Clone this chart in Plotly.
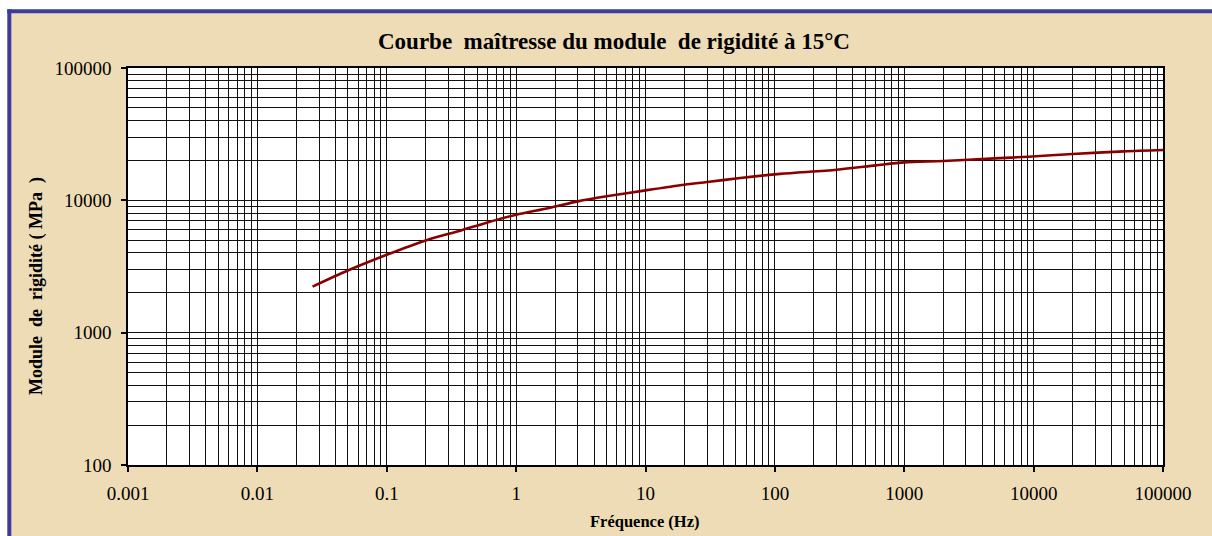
import plotly.graph_objects as go

# Master curve of the stiffness modulus at 15 °C
frequence_hz = [0.0267, 0.05, 0.1, 0.2, 0.37, 0.6, 1, 1.8, 3, 5, 10, 20, 30,
                54, 110, 300, 600, 1000, 2000, 5000, 9100, 20000, 50000, 100000]
module_mpa = [2230, 2950, 3880, 4980, 5900, 6810, 7780, 8750, 9820, 10720,
              11890, 13120, 13740, 14760, 15850, 17020, 18360, 19370, 19820,
              20750, 21370, 22400, 23440, 23980]

x_ticks = [0.001, 0.01, 0.1, 1, 10, 100, 1000, 10000, 100000]
x_labels = ["0.001", "0.01", "0.1", "1", "10", "100", "1000", "10000", "100000"]
y_ticks = [100, 1000, 10000, 100000]
y_labels = ["100", "1000", "10000", "100000"]

titre = "Courbe\u00a0 maîtresse du module\u00a0 de rigidité à 15°C"
titre_x = "Fréquence (Hz)"
titre_y = "Module\u00a0 de\u00a0 rigidité ( MPa\u00a0 )"

W, H = 1212, 536
L, R, T, B = 128, 49, 68, 71
pw, ph = W - L - R, H - T - B


def px(x):
    return (x - L) / pw


def py(y):
    return (H - B - y) / ph


serif = "Liberation Serif"
grid = "#111111"
frame_blue = "#3b3ba0"

fig = go.Figure()
fig.add_trace(go.Scatter(
    x=frequence_hz, y=module_mpa, mode="lines",
    line=dict(color="#8a0000", width=2.6, shape="spline", smoothing=0.8),
    showlegend=False, hoverinfo="x+y",
))

axis_common = dict(
    type="log", showline=True, linecolor="#000000", linewidth=1.5, mirror=True,
    showgrid=True, gridcolor=grid, gridwidth=1.4, zeroline=False,
    ticks="outside", ticklen=5, tickwidth=1.5, tickcolor="#000000",
    tickmode="array",
    tickfont=dict(family=serif, size=19, color="#000000"),
    minor=dict(tickmode="linear", dtick="D1", showgrid=True, gridcolor=grid,
               gridwidth=1.4, ticks=""),
)

fig.update_xaxes(range=[-3, 5], tickvals=x_ticks, ticktext=x_labels,
                 ticklabelstandoff=5, **axis_common)
fig.update_yaxes(range=[2, 5], tickvals=y_ticks, ticktext=y_labels,
                 ticklabelstandoff=6, **axis_common)

fig.update_layout(
    width=W, height=H,
    margin=dict(l=L, r=R, t=T, b=B, pad=0),
    paper_bgcolor="#ffffff", plot_bgcolor="#ffffff",
    shapes=[
        # parchment panel
        dict(type="rect", xref="paper", yref="paper", layer="below",
             x0=px(9.3), x1=px(1240), y0=py(11.3), y1=py(570),
             fillcolor="#eedcb6", line=dict(width=0)),
        # blue frame: top and left edges
        dict(type="line", xref="paper", yref="paper", layer="below",
             x0=px(7.3), x1=px(1240), y0=py(11.3), y1=py(11.3),
             line=dict(color=frame_blue, width=4)),
        dict(type="line", xref="paper", yref="paper", layer="below",
             x0=px(9.3), x1=px(9.3), y0=py(9.3), y1=py(570),
             line=dict(color=frame_blue, width=4)),
        # white plotting surface
        dict(type="rect", xref="paper", yref="paper", layer="below",
             x0=0, x1=1, y0=0, y1=1, fillcolor="#ffffff", line=dict(width=0)),
    ],
    annotations=[
        dict(text="<b>" + titre + "</b>", xref="paper", yref="paper",
             x=px(614), y=py(41), showarrow=False, xanchor="center", yanchor="middle",
             font=dict(family=serif, size=23, color="#000000")),
        dict(text="<b>" + titre_x + "</b>", xref="paper", yref="paper",
             x=px(645), y=py(521), showarrow=False, xanchor="center", yanchor="middle",
             font=dict(family=serif, size=16.5, color="#000000")),
        dict(text="<b>" + titre_y + "</b>", xref="paper", yref="paper",
             x=px(36), y=py(286), showarrow=False, xanchor="center", yanchor="middle",
             textangle=-90, font=dict(family=serif, size=18, color="#000000")),
    ],
)

fig.write_html("out.html")
